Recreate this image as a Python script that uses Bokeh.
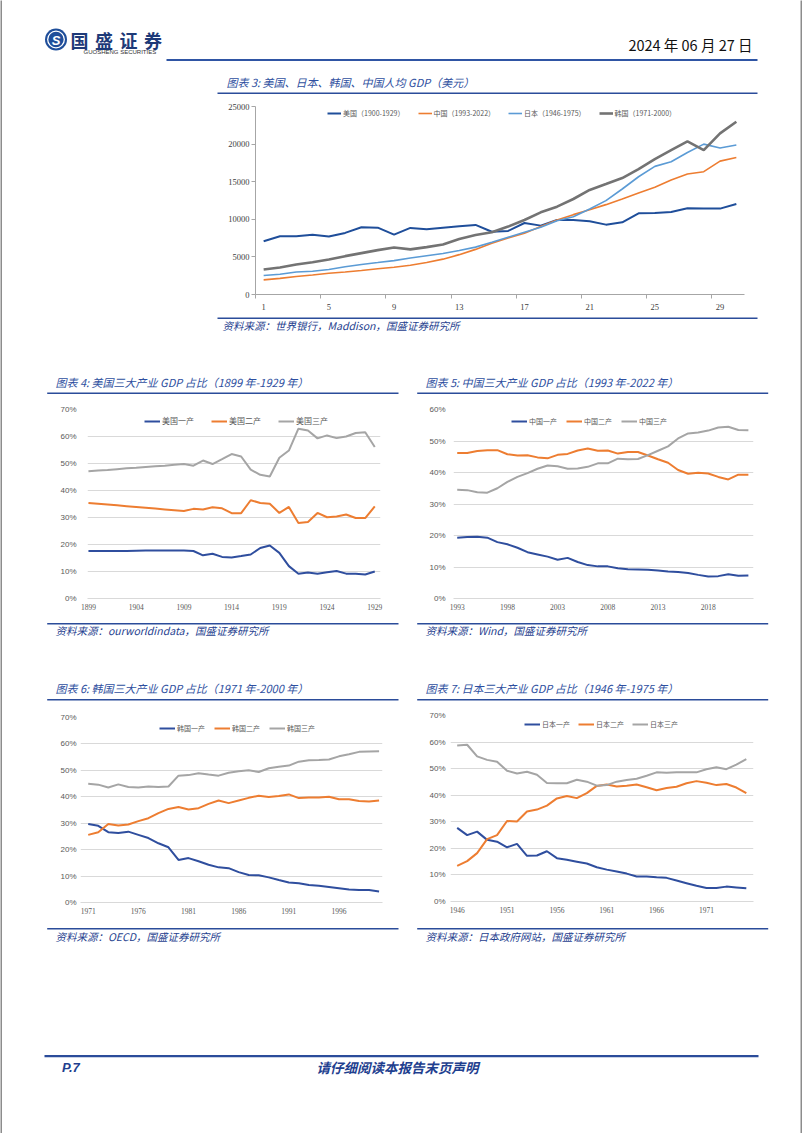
from bokeh.plotting import figure
from bokeh.models import Range1d, FixedTicker, PrintfTickFormatter, Legend, LegendItem
from bokeh.layouts import column, row
from bokeh.core.properties import value
from bokeh.embed import file_html
from bokeh.resources import INLINE

# ---------------- data ----------------
# Chart 3: GDP per capita (USD), year index 1..30
gdp_idx = list(range(1, 31))
gdp_xticks = [1, 5, 9, 13, 17, 21, 25, 29]
gdp_yticks = [0, 5000, 10000, 15000, 20000, 25000]
gdp_names = ["美国（1900-1929）", "中国（1993-2022）", "日本（1946-1975）", "韩国（1971-2000）"]
us_gdp = [7080, 7740, 7740, 7960, 7700, 8190, 8940, 8890, 7960, 8850, 8670, 8890, 9070, 9250, 8350,
          8450, 9510, 9160, 9910, 9910, 9735, 9290, 9600, 10800, 10840, 10970, 11460, 11420, 11420, 12040]
cn_gdp = [1950, 2150, 2400, 2600, 2830, 3000, 3200, 3420, 3630, 3900, 4250, 4700, 5300, 6000, 6800,
          7520, 8140, 9030, 9910, 10620, 11280, 11950, 12700, 13500, 14250, 15220, 16020, 16330, 17740, 18230]
jp_gdp = [2520, 2700, 3000, 3100, 3320, 3700, 4000, 4250, 4510, 4850, 5150, 5450, 5840, 6300, 6950,
          7610, 8275, 8940, 9820, 10350, 11370, 12480, 14030, 15660, 17040, 17650, 18890, 20000, 19470, 19870]
kr_gdp = [3320, 3600, 4000, 4300, 4650, 5100, 5500, 5900, 6250, 6000, 6300, 6640, 7390, 7920, 8275,
          9030, 9910, 10930, 11680, 12700, 13900, 14690, 15490, 16680, 18010, 19200, 20360, 19200, 21420, 22970]

pct70_ticks = [0, 10, 20, 30, 40, 50, 60, 70]
pct60_ticks = [0, 10, 20, 30, 40, 50, 60]

# Chart 4: USA 1899-1929
us_years = list(range(1899, 1930))
us_xticks = [1899, 1904, 1909, 1914, 1919, 1924, 1929]
us_names = ["美国一产", "美国二产", "美国三产"]
us_p = [17.6, 17.6, 17.6, 17.6, 17.6, 17.7, 17.8, 17.8, 17.8, 17.8, 17.8, 17.6, 16.0, 16.6, 15.4, 15.2,
        15.7, 16.3, 18.7, 19.6, 16.9, 12.0, 9.2, 9.6, 9.2, 9.7, 10.2, 9.2, 9.2, 8.9, 10.0]
us_s = [35.4, 35.1, 34.8, 34.5, 34.2, 33.9, 33.6, 33.3, 33.0, 32.7, 32.4, 33.2, 33.0, 33.8, 33.4, 31.6,
        31.6, 36.4, 35.4, 35.1, 31.7, 33.9, 28.0, 28.3, 31.7, 30.1, 30.4, 31.1, 29.8, 29.8, 34.1]
us_t = [47.1, 47.4, 47.6, 47.9, 48.2, 48.4, 48.7, 49.0, 49.2, 49.5, 49.8, 49.2, 51.1, 49.8, 51.6, 53.5,
        52.6, 47.7, 45.8, 45.2, 52.1, 54.8, 62.9, 62.2, 59.3, 60.4, 59.4, 60.0, 61.3, 61.6, 56.1]

# Chart 5: China 1993-2022
cn_years = list(range(1993, 2023))
cn_xticks = [1993, 1998, 2003, 2008, 2013, 2018]
cn_names = ["中国一产", "中国二产", "中国三产"]
cn_p = [19.3, 19.5, 19.6, 19.3, 17.9, 17.2, 16.1, 14.7, 14.0, 13.3, 12.3, 12.9, 11.6, 10.6, 10.2,
        10.2, 9.6, 9.3, 9.2, 9.1, 8.9, 8.6, 8.4, 8.1, 7.5, 7.0, 7.1, 7.7, 7.2, 7.3]
cn_s = [46.2, 46.2, 46.8, 47.1, 47.1, 45.8, 45.4, 45.5, 44.8, 44.5, 45.6, 45.9, 47.0, 47.6, 46.9,
        47.0, 46.0, 46.5, 46.5, 45.4, 44.2, 43.1, 40.8, 39.6, 39.9, 39.7, 38.6, 37.8, 39.3, 39.3]
cn_t = [34.5, 34.4, 33.7, 33.6, 35.0, 37.0, 38.6, 39.8, 41.2, 42.2, 42.0, 41.2, 41.3, 41.8, 42.9,
        42.9, 44.4, 44.2, 44.3, 45.5, 46.9, 48.3, 50.8, 52.4, 52.7, 53.3, 54.3, 54.5, 53.5, 53.4]

# Chart 6: Korea 1971-2000
kr_years = list(range(1971, 2001))
kr_xticks = [1971, 1976, 1981, 1986, 1991, 1996]
kr_names = ["韩国一产", "韩国二产", "韩国三产"]
kr_p = [29.7, 29.0, 26.6, 26.3, 26.8, 25.6, 24.4, 22.4, 20.9, 16.1, 16.8, 15.6, 14.3, 13.3, 13.0,
        11.5, 10.4, 10.3, 9.5, 8.5, 7.6, 7.3, 6.6, 6.3, 5.9, 5.4, 4.9, 4.7, 4.7, 4.2]
kr_s = [25.6, 26.6, 29.7, 29.1, 29.5, 30.8, 31.9, 33.8, 35.4, 36.1, 35.2, 35.7, 37.3, 38.6, 37.6,
        38.6, 39.6, 40.4, 39.9, 40.3, 40.9, 39.5, 39.7, 39.7, 40.0, 39.1, 39.1, 38.4, 38.2, 38.6]
kr_t = [44.9, 44.6, 43.5, 44.7, 43.7, 43.5, 43.9, 43.7, 43.9, 48.0, 48.2, 48.9, 48.4, 48.0, 49.1,
        49.7, 50.0, 49.4, 50.8, 51.4, 51.8, 53.3, 53.8, 53.9, 54.1, 55.3, 56.1, 57.0, 57.1, 57.2]

# Chart 7: Japan 1946-1975
jp_years = list(range(1946, 1976))
jp_xticks = [1946, 1951, 1956, 1961, 1966, 1971]
jp_names = ["日本一产", "日本二产", "日本三产"]
jp_p = [27.7, 25.0, 26.3, 23.2, 22.5, 20.4, 21.7, 17.2, 17.3, 18.9, 16.3, 15.7, 15.0, 14.3, 12.9,
        12.0, 11.3, 10.5, 9.4, 9.4, 9.1, 8.9, 7.9, 6.9, 5.9, 5.1, 5.1, 5.6, 5.3, 5.0]
jp_s = [13.4, 15.2, 18.2, 23.5, 25.0, 30.3, 30.1, 33.9, 34.6, 36.1, 38.8, 39.7, 38.9, 40.8, 43.5,
        44.0, 43.3, 43.6, 44.0, 43.0, 41.9, 42.7, 43.2, 44.5, 45.3, 44.7, 43.8, 44.2, 42.9, 40.8]
jp_t = [58.7, 59.0, 54.6, 53.3, 52.6, 49.2, 48.2, 48.8, 47.7, 44.6, 44.5, 44.5, 45.8, 45.1, 43.6,
        43.8, 45.1, 45.7, 46.2, 47.3, 48.6, 48.5, 48.6, 48.6, 48.6, 49.8, 50.5, 49.8, 51.5, 53.6]

# texts
date_text = "2024 年 06 月 27 日"
logo_chars = ["国", "盛", "证", "券"]
logo_sub = "GUOSHENG SECURITIES"
t3 = "图表 3:  美国、日本、韩国、中国人均 GDP（美元）"
t4 = "图表 4:  美国三大产业 GDP 占比（1899 年-1929 年）"
t5 = "图表 5:  中国三大产业 GDP 占比（1993 年-2022 年）"
t6 = "图表 6:  韩国三大产业 GDP 占比（1971 年-2000 年）"
t7 = "图表 7:  日本三大产业 GDP 占比（1946 年-1975 年）"
s3 = "资料来源：世界银行，Maddison，国盛证券研究所"
s4 = "资料来源：ourworldindata，国盛证券研究所"
s5 = "资料来源：Wind，国盛证券研究所"
s6 = "资料来源：OECD，国盛证券研究所"
s7 = "资料来源：日本政府网站，国盛证券研究所"
page_no = "P.7"
footer_text = "请仔细阅读本报告末页声明"

# ---------------- style ----------------
CJK = "Noto Sans CJK SC"
SERIF = "Liberation Serif"
SANS = "Liberation Sans"
NAVY = "#1F3F8F"
TITLE_C = "#2E4FA0"
LINE_C = "#2B4C9A"
GRID = "#D9D9D9"
TICK_C = "#595959"
C_BLUE = "#2F4E9E"
C_ORANGE = "#ED7D31"
C_GRAY = "#A5A5A5"
FRAME_C = "#8C8C8C"

X0, X1 = 2, 800          # inner page area (page has a 2px grey frame)


def band(top, h):
    p = figure(width=X1 - X0, height=h, x_range=Range1d(X0, X1), y_range=Range1d(top + h, top),
               x_axis_type=None, y_axis_type=None, output_backend="svg",
               toolbar_location=None, min_border=0, title=None, frame_align=False)
    p.outline_line_color = None
    return p


def bar(w, h):
    p = figure(width=w, height=h, x_axis_type=None, y_axis_type=None, output_backend="svg",
               toolbar_location=None, min_border=0, title=None, frame_align=False,
               background_fill_color=FRAME_C, border_fill_color=FRAME_C)
    p.outline_line_color = None
    return p


def txt(p, x, y, s, size, color, font=CJK, style="italic", align="left"):
    p.text(x=[x], y=[y], text=[s], text_font=value(font), text_font_size=size,
           text_color=color, text_font_style=style, text_align=align, text_baseline="middle")


def hline(p, x0, x1, y, color=LINE_C, w=1.6):
    p.segment(x0=[x0], y0=[y], x1=[x1], y1=[y], line_color=color, line_width=w)


def pct_chart(w, h, xr, yr, bl, br, bt, bb, xticks, yticks, ystand):
    p = figure(width=w, height=h, x_range=Range1d(*xr), y_range=Range1d(*yr),
               output_backend="svg", toolbar_location=None, title=None, frame_align=False,
               min_border_left=bl, min_border_right=br, min_border_top=bt, min_border_bottom=bb)
    p.outline_line_color = None
    p.xgrid.visible = False
    p.ygrid.ticker = FixedTicker(ticks=yticks)
    p.ygrid.grid_line_color = GRID
    p.ygrid.grid_line_width = 1
    p.xaxis.ticker = FixedTicker(ticks=xticks)
    p.xaxis.axis_line_color = GRID
    p.xaxis.major_tick_out = 0
    p.xaxis.major_tick_in = 0
    p.xaxis.major_tick_line_color = None
    p.xaxis.minor_tick_line_color = None
    p.xaxis.major_label_standoff = 5
    p.xaxis.major_label_text_font = SERIF
    p.xaxis.major_label_text_font_size = "7.5px"
    p.xaxis.major_label_text_color = TICK_C
    p.yaxis.ticker = FixedTicker(ticks=yticks)
    p.yaxis.formatter = PrintfTickFormatter(format="%d%%")
    p.yaxis.axis_line_color = None
    p.yaxis.major_tick_out = 0
    p.yaxis.major_tick_in = 0
    p.yaxis.major_tick_line_color = None
    p.yaxis.minor_tick_line_color = None
    p.yaxis.major_label_standoff = ystand
    p.yaxis.major_label_text_font = SANS
    p.yaxis.major_label_text_font_size = "8px"
    p.yaxis.major_label_text_color = TICK_C
    return p


def add_series(p, xs, series, names, colors, widths, loc, spacing, fsize, gw=16):
    items = []
    for ys, nm, c, lw in zip(series, names, colors, widths):
        r = p.line(xs, ys, line_color=c, line_width=lw)
        items.append(LegendItem(label=nm, renderers=[r]))
    lg = Legend(items=items, orientation="horizontal", location=loc, padding=0, margin=0,
                spacing=spacing, glyph_width=gw, glyph_height=10, label_height=10,
                label_standoff=2, label_text_font=CJK, label_text_font_size=fsize,
                label_text_color=TICK_C, background_fill_alpha=0, border_line_alpha=0)
    p.add_layout(lg)


# ---------------- header band (page y 2..100) ----------------
hdr = band(2, 98)
hdr.circle(x=[55.5], y=[39], radius=11, fill_color="#1F4E9A", line_color=None)
hdr.circle(x=[55.5], y=[39], radius=8.3, fill_color=None, line_color="white", line_width=1.3)
txt(hdr, 55.5, 39.5, "S", "13px", "white", font=SANS, style="bold italic", align="center")
for k, ch in enumerate(logo_chars):
    txt(hdr, 79 + 24.5 * k, 39, ch, "18px", "#1E3A78", style="bold", align="center")
txt(hdr, 83, 51.5, logo_sub, "6px", "#333333", font=SANS, style="normal")
txt(hdr, 752, 44, date_text, "14.5px", "#111111", font="Liberation Sans Narrow, Noto Sans CJK SC",
    style="normal", align="right")
hline(hdr, 166, 757, 59.5, color="#2F55A4", w=2)
txt(hdr, 226, 81.5, t3, "11px", TITLE_C)
hline(hdr, 217, 757, 92.7)

# ---------------- chart 3 (page y 100..316) ----------------
p3 = figure(width=X1 - X0, height=216, x_range=Range1d(0.5, 30.5), y_range=Range1d(0, 25000),
            output_backend="svg", toolbar_location=None, title=None, frame_align=False,
            min_border_left=255 - X0, min_border_right=X1 - 744, min_border_top=6, min_border_bottom=22)
p3.outline_line_color = None
p3.grid.visible = False
p3.xaxis.ticker = FixedTicker(ticks=gdp_xticks, minor_ticks=[t - 0.5 for t in gdp_xticks])
p3.xaxis.major_tick_out = 0
p3.xaxis.major_tick_in = 0
p3.xaxis.minor_tick_out = 4
p3.xaxis.minor_tick_in = 0
p3.xaxis.minor_tick_line_color = "#A6A6A6"
p3.xaxis.axis_line_color = "#A6A6A6"
p3.xaxis.major_label_standoff = 5
p3.yaxis.ticker = FixedTicker(ticks=gdp_yticks)
p3.yaxis.formatter = PrintfTickFormatter(format="%d")
p3.yaxis.major_tick_out = 4
p3.yaxis.major_tick_in = 0
p3.yaxis.major_tick_line_color = "#A6A6A6"
p3.yaxis.minor_tick_line_color = None
p3.yaxis.axis_line_color = "#A6A6A6"
p3.yaxis.major_label_standoff = 2
for ax in (p3.xaxis, p3.yaxis):
    ax.major_label_text_font = SERIF
    ax.major_label_text_font_size = "8.5px"
    ax.major_label_text_color = "#404040"
add_series(p3, gdp_idx, [us_gdp, cn_gdp, jp_gdp, kr_gdp], gdp_names,
           ["#1F4E9A", C_ORANGE, "#5B9BD5", "#737373"], [2, 1.6, 1.6, 2.6],
           (72, 176), 13, "7px", gw=14)

# ---------------- middle band 1 (page y 316..398) ----------------
m1 = band(316, 82)
hline(m1, 217, 757, 317.7)
txt(m1, 222, 324.5, s3, "10.5px", NAVY)
txt(m1, 55, 381.7, t4, "11px", TITLE_C)
hline(m1, 46.7, 398, 392.7)
txt(m1, 425, 381.7, t5, "11px", TITLE_C)
hline(m1, 416.7, 767.7, 392.7)

# ---------------- charts 4 & 5 (page y 398..618) ----------------
p4 = pct_chart(408 - X0, 220, (1898.9, 1929.6), (0, 70), 87 - X0, 28, 11, 20, us_xticks, pct70_ticks, 11)
add_series(p4, us_years, [us_p, us_s, us_t], us_names, [C_BLUE, C_ORANGE, C_GRAY], [2, 2, 2],
           (57, 172), 17, "8px")
p5 = pct_chart(X1 - 408, 220, (1992.63, 2022.51), (0, 60), 45, X1 - 753, 11, 20, cn_xticks, pct60_ticks, 8)
add_series(p5, cn_years, [cn_p, cn_s, cn_t], cn_names, [C_BLUE, C_ORANGE, C_GRAY], [2, 2, 2],
           (58, 172), 9, "7px")

# ---------------- middle band 2 (page y 618..705) ----------------
m2 = band(618, 87)
hline(m2, 46.7, 398, 623.3)
hline(m2, 416.7, 767.7, 623.3)
txt(m2, 55, 630, s4, "10.5px", NAVY)
txt(m2, 425, 630, s5, "10.5px", NAVY)
txt(m2, 55, 687.3, t6, "11px", TITLE_C)
hline(m2, 46.7, 398, 699.3)
txt(m2, 425, 687.3, t7, "11px", TITLE_C)
hline(m2, 416.7, 767.7, 699.3)

# ---------------- charts 6 & 7 (page y 705..922) ----------------
p6 = pct_chart(408 - X0, 217, (1970.23, 2000.34), (0, 70), 80 - X0, 26, 12, 20, kr_xticks, pct70_ticks, 4)
add_series(p6, kr_years, [kr_p, kr_s, kr_t], kr_names, [C_BLUE, C_ORANGE, C_GRAY], [2, 2, 2],
           (79, 169), 9, "7px")
p7 = pct_chart(X1 - 408, 217, (1945.33, 1975.72), (0, 70), 42, X1 - 753, 10, 21, jp_xticks, pct70_ticks, 5)
add_series(p7, jp_years, [jp_p, jp_s, jp_t], jp_names, [C_BLUE, C_ORANGE, C_GRAY], [2, 2, 2],
           (74, 172), 8, "7px")

# ---------------- footer band (page y 922..1131) ----------------
ft = band(922, 209)
hline(ft, 46.7, 398, 928.3)
hline(ft, 416.7, 767.7, 928.3)
txt(ft, 55, 936, s6, "10.5px", NAVY)
txt(ft, 425, 936, s7, "10.5px", NAVY)
hline(ft, 44, 758, 1055.7, color="#2B4C9A", w=2.2)
txt(ft, 61.5, 1066.7, page_no, "13px", NAVY, font=SANS, style="bold italic")
txt(ft, 397, 1066.5, footer_text, "13.5px", NAVY, style="bold italic", align="center")

inner = column(bar(X1 - X0, 2), hdr, p3, m1, row(p4, p5), m2, row(p6, p7), ft, bar(X1 - X0, 2))
layout = row(bar(2, 1133), inner, bar(2, 1133))
open("out.html", "w").write(file_html(layout, INLINE))
